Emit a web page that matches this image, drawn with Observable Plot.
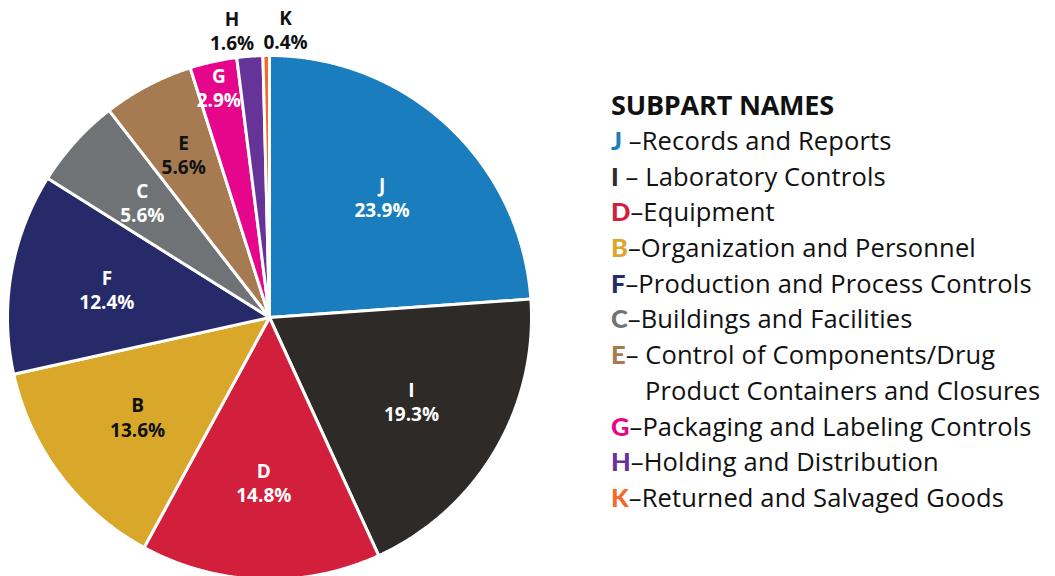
<!DOCTYPE html>
<html><head><meta charset="utf-8">
<script src="https://cdn.jsdelivr.net/npm/d3@7"></script>
<script src="https://cdn.jsdelivr.net/npm/@observablehq/plot@0.6"></script>
<style>
body{margin:0;background:#fff;font-family:"Open Sans",sans-serif;}
#wrap{position:relative;width:1055px;height:576px;overflow:hidden;}
#chart{position:absolute;left:0;top:0;}
#legend{position:absolute;left:611px;top:87px;color:#111;width:444px;}
#legend .title{font-weight:700;font-size:27px;height:36px;line-height:36px;letter-spacing:-0.2px;}
#legend .row{font-size:25.5px;height:35.7px;line-height:35.7px;white-space:nowrap;letter-spacing:0.15px;}
#legend .let{font-family:Lato,"Open Sans",sans-serif;font-weight:900;font-size:25.5px;line-height:0;letter-spacing:0;}
#legend .indent{padding-left:34px;}
</style></head><body>
<div id="wrap"><div id="chart"></div><div id="legend"></div></div>
<script>
// Data
const codes  = ["J","I","D","B","F","C","E","G","H","K"];
const shares = [23.9,19.3,14.8,13.6,12.4,5.6,5.6,2.9,1.6,0.4];
const names  = ["Records and Reports","Laboratory Controls","Equipment","Organization and Personnel",
  "Production and Process Controls","Buildings and Facilities","Control of Components/Drug|Product Containers and Closures",
  "Packaging and Labeling Controls","Holding and Distribution","Returned and Salvaged Goods"];
const colors = ["#1a7dbd","#2e2a27","#d2203c","#d9a82a","#272a68","#707376","#a67b52","#e6068c","#663399","#f26a2a"];
const darkLabel = ["B","E","H","K"];

const rows = codes.map((c,i)=>({code:c, share:shares[i], name:names[i], color:colors[i]}));

// geometry
const arcs = d3.pie().sort(null).value(d=>d.share)(rows);
const poly = [];
for (const a of arcs) {
  const key = a.data.code;
  poly.push({key, x:0, y:0});
  const n = Math.max(2, Math.ceil((a.endAngle-a.startAngle)/0.005));
  for (let i=0;i<=n;i++){
    const t = a.startAngle + (a.endAngle-a.startAngle)*i/n;
    poly.push({key, x:Math.sin(t), y:Math.cos(t)});
  }
  poly.push({key, x:0, y:0});
}
const rFactor = {C:0.655, E:0.705, G:0.90, H:1.10, K:1.10};
const xNudge = {H:-0.06, K:0.075};
const labels = arcs.map(a=>{
  const m = (a.startAngle+a.endAngle)/2;
  const r = rFactor[a.data.code] ?? 0.63;
  return {code:a.data.code, x:r*Math.sin(m)+(xNudge[a.data.code]??0), y:r*Math.cos(m),
          text:`${a.data.code}\n${a.data.share.toFixed(1)}%`};
});

const R = 262, cx = 269, cy = 317, W = 1055, H = 576;
const chart = Plot.plot({
  width: W, height: H, margin: 0,
  x: {domain: [-cx/R, (W-cx)/R], axis: null},
  y: {domain: [-(H-cy)/R, cy/R], axis: null},
  color: {domain: codes, range: colors},
  style: {fontFamily: '"Open Sans", sans-serif', background: "white"},
  marks: [
    Plot.line(poly, {x:"x", y:"y", z:"key", fill:"key", stroke:"white", strokeWidth:3, strokeLinejoin:"round", curve:"linear-closed"}),
    Plot.text(labels.filter(d=>!darkLabel.includes(d.code)), {x:"x", y:"y", text:"text", fill:"white", fontSize:19, fontWeight:700, lineHeight:1.27}),
    Plot.text(labels.filter(d=>darkLabel.includes(d.code)), {x:"x", y:"y", text:"text", fill:"#111", fontSize:19, fontWeight:700, lineHeight:1.27})
  ]
});
document.getElementById("chart").appendChild(chart);

// legend
const lg = document.getElementById("legend");
const t = document.createElement("div"); t.className="title"; t.textContent="SUBPART NAMES"; lg.appendChild(t);
rows.forEach(r=>{
  const parts = r.name.split("|");
  const row = document.createElement("div"); row.className="row";
  const l = document.createElement("span"); l.className="let"; l.style.color=r.color; l.textContent=r.code;
  row.appendChild(l);
  const gap = (r.code==="J"||r.code==="I") ? " " : "";
  row.appendChild(document.createTextNode(gap+"–"+(r.code==="E"||r.code==="I"?" ":"")+parts[0]));
  lg.appendChild(row);
  if (parts[1]) { const r2=document.createElement("div"); r2.className="row indent"; r2.textContent=parts[1]; lg.appendChild(r2); }
});
</script>
</body></html>
